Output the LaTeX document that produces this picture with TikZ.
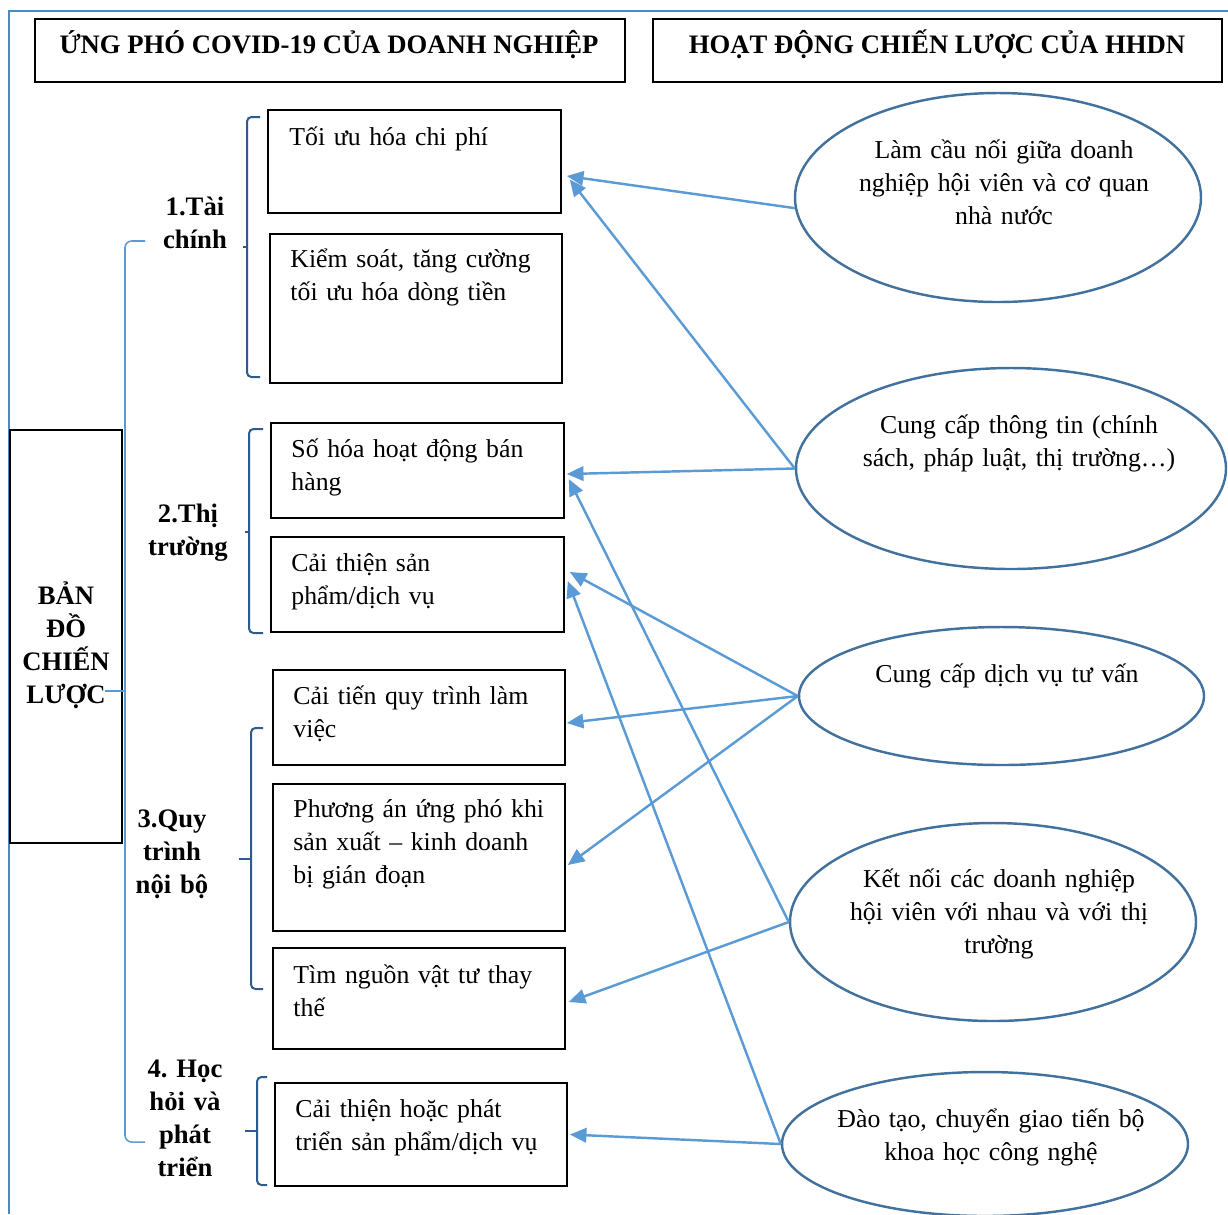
\documentclass[tikz,border=0pt]{standalone}
\usepackage{fontspec}
\setmainfont{Liberation Serif}
\usetikzlibrary{arrows.meta,shapes.geometric,calc}
\definecolor{cArr}{HTML}{5B9BD5}
\definecolor{cEll}{HTML}{41719C}
\definecolor{cBrk}{HTML}{2F5A8C}
\definecolor{cFrm}{HTML}{4A89C8}
\frenchspacing
\begin{document}
\frenchspacing
\begin{tikzpicture}[x=0.45pt, y=-0.45pt,
  font=\fontsize{11.6pt}{14.85pt}\selectfont,
  box/.style={draw=black, line width=0.7pt, rectangle, inner sep=0pt},
  sz/.style 2 args={minimum width=#1*0.45pt, minimum height=#2*0.45pt},
  oval/.style={draw=cEll, line width=1.1pt, ellipse, inner sep=0pt},
  txt/.style={inner sep=0pt, text width=135pt, align=left, anchor=base west},
  ctxt/.style={inner sep=0pt, text width=200pt, align=center, anchor=base},
  hd/.style={font=\fontsize{12pt}{14.85pt}\selectfont\bfseries, inner sep=0pt, anchor=base},
  cat/.style={font=\fontsize{12pt}{14.85pt}\selectfont\bfseries\frenchspacing, inner sep=0pt, text width=60pt, align=center, anchor=base},
  link/.style={draw=cArr, line width=1.1pt, -{Triangle[length=7.5pt,width=6.5pt]}},
  brk/.style={draw=cBrk, line width=0.9pt, rounded corners=2pt},
  obrk/.style={draw=cArr, line width=0.7pt, rounded corners=3pt}]
\useasboundingbox (0,0) rectangle (1228,1214);
\clip (0,0) rectangle (1228,1214);

% frame
\draw[cFrm, line width=0.9pt] (1228,11) -- (9,11) -- (9,1214);

% headers
\node[box, sz={590}{63}] (h1) at (330,50.5) {};
\node[box, sz={569}{63}] (h2) at (937.5,50.5) {};
\node[hd] (h1t) at (329,53) {ỨNG PHÓ COVID-19 CỦA DOANH NGHIỆP};
\node[hd] (h2t) at (937,53) {HOẠT ĐỘNG CHIẾN LƯỢC CỦA HHDN};

% left map box
\node[box, sz={112}{413}] (map) at (66,636.5) {};
\node[cat] (mapt) at (66,604) {BẢN\\ĐỒ\\CHIẾN\\LƯỢC};

% outer brace
\draw[obrk] (145,241) -- (125,241) -- (125,1142) -- (145,1142);
\draw[obrk] (105,691) -- (125,691);

% category labels
\node[cat] (cat1) at (195,215) {1.Tài\\chính};
\node[cat] (cat2) at (188,522) {2.Thị\\trường};
\node[cat] (cat3) at (172,827) {3.Quy\\trình\\nội bộ};
\node[cat] (cat4) at (185,1077) {4. Học\\hỏi và\\phát\\triển};

% inner brackets
\draw[brk] (260,117) -- (247,117) -- (247,377) -- (260,377);
\draw[brk] (243,247) -- (247,247);
\draw[brk] (263,429) -- (249,429) -- (249,633) -- (263,633);
\draw[brk] (245,532) -- (249,532);
\draw[brk] (263,728) -- (251,728) -- (251,989) -- (263,989);
\draw[brk] (239,859) -- (251,859);
\draw[brk] (267,1077) -- (257,1077) -- (257,1185) -- (267,1185);
\draw[brk] (245,1131) -- (257,1131);

% boxes
\node[box, sz={293}{103}] (a1) at (414.5,161.5) {};
\node[box, sz={292}{149}] (a2) at (416,308.5) {};
\node[box, sz={293}{95}] (b1) at (417.5,470.5) {};
\node[box, sz={293}{95}] (b2) at (417.5,584.5) {};
\node[box, sz={292}{95}] (c1) at (419,717.5) {};
\node[box, sz={292}{147}] (c2) at (419,857.5) {};
\node[box, sz={292}{101}] (c3) at (419,998.5) {};
\node[box, sz={292}{103}] (d1) at (421,1134.5) {};

\node[txt] (a1t) at (289,145) {Tối ưu hóa chi phí};
\node[txt] (a2t) at (290,267) {Kiểm soát, tăng cường\\tối ưu hóa dòng tiền};
\node[txt] (b1t) at (291,457) {Số hóa hoạt động bán\\hàng};
\node[txt] (b2t) at (291,571) {Cải thiện sản\\phẩm/dịch vụ};
\node[txt] (c1t) at (293,704) {Cải tiến quy trình làm\\việc};
\node[txt] (c2t) at (293,817) {Phương án ứng phó khi\\sản xuất – kinh doanh\\bị gián đoạn};
\node[txt] (c3t) at (293,983) {Tìm nguồn vật tư thay\\thế};
\node[txt] (d1t) at (295,1117) {Cải thiện hoặc phát\\triển sản phẩm/dịch vụ};

% ellipses
\node[oval, sz={406}{209}] (e1) at (998,197.5) {};
\node[oval, sz={430}{201}] (e2) at (1011,468.5) {};
\node[oval, sz={405}{138}] (e3) at (1001.5,696) {};
\node[oval, sz={406}{198}] (e4) at (993,922) {};
\node[oval, sz={406}{144}] (e5) at (985,1144) {};

\node[ctxt] (e1t) at (1004,158) {Làm cầu nối giữa doanh\\nghiệp hội viên và cơ quan\\nhà nước};
\node[ctxt] (e2t) at (1019,433) {Cung cấp thông tin (chính\\sách, pháp luật, thị trường…)};
\node[ctxt] (e3t) at (1007,682) {Cung cấp dịch vụ tư vấn};
\node[ctxt] (e4t) at (999,887) {Kết nối các doanh nghiệp\\hội viên với nhau và với thị\\trường};
\node[ctxt] (e5t) at (991,1127) {Đào tạo, chuyển giao tiến bộ\\khoa học công nghệ};

% connectors
\draw[link] (e1.183) -- ($(a1.east)+(5,14.5)$);
\draw[link] (e2.west) -- ($(a1.east)+(8,18)$);
\draw[link] (e2.west) -- ($(b1.east)+(2,3.5)$);
\draw[link] (e4.west) -- ($(b1.east)+(4,8.5)$);
\draw[link] (e3.west) -- ($(b2.east)+(5,-12.5)$);
\draw[link] (e5.west) -- ($(b2.east)+(3,-3.5)$);
\draw[link] (e3.west) -- ($(c1.east)+(1,5.5)$);
\draw[link] (e3.west) -- ($(c2.east)+(2,7.5)$);
\draw[link] (e4.west) -- ($(c3.east)+(3,3.5)$);
\draw[link] (e5.west) -- ($(d1.east)+(2,0)$);
\end{tikzpicture}
\end{document}
